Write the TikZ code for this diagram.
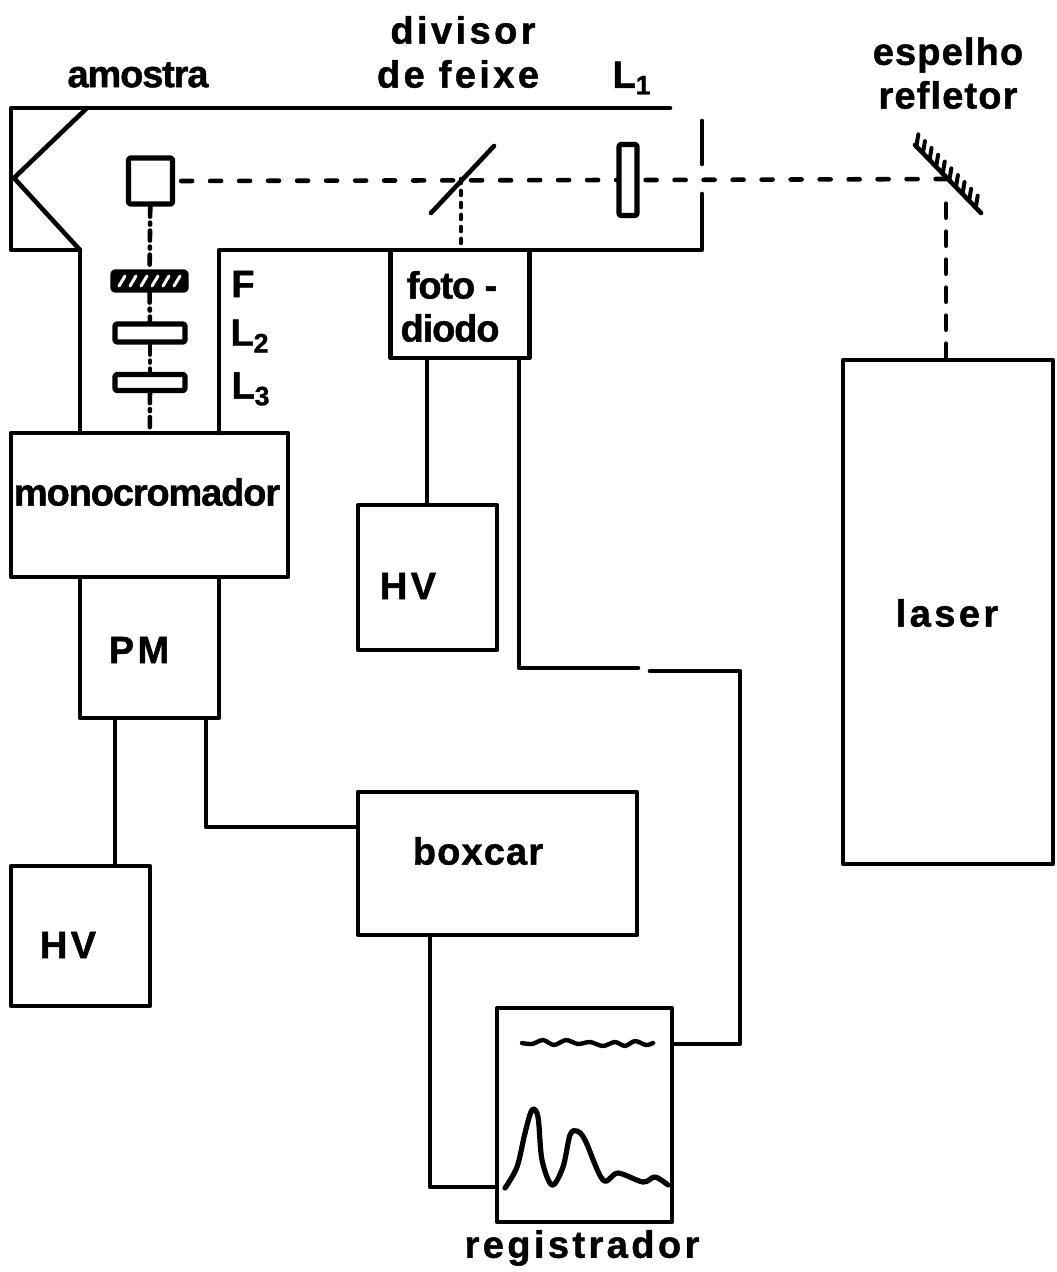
\documentclass[tikz,border=0pt]{standalone}
\usepackage{fontspec}
\setmainfont[FakeBold=1.2]{Liberation Sans}
\newfontfamily\widefont[LetterSpace=9,FakeBold=1.2]{Liberation Sans}
\newfontfamily\midfont[LetterSpace=3,FakeBold=1.2]{Liberation Sans}
\newfontfamily\tightfont[LetterSpace=-3,FakeBold=1.2]{Liberation Sans}
\usetikzlibrary{calc,positioning}

\begin{document}
\begin{tikzpicture}[x=0.5pt,y=-0.5pt,line cap=round,line join=round,
	box/.style={draw,line width=2.3pt,inner sep=0pt},
	optic/.style={draw,line width=2.6pt,inner sep=0pt,rounded corners=1pt},
	lbl/.style={font=\fontsize{19}{19}\selectfont\bfseries\midfont,inner sep=0pt},
	widelbl/.style={font=\fontsize{19}{19}\selectfont\bfseries\widefont,inner sep=0pt},
	tightlbl/.style={font=\fontsize{19}{19}\selectfont\bfseries\tightfont,inner sep=0pt},
	wire/.style={line width=2.3pt},
	beam/.style={line width=2.3pt,dash pattern=on 5.5pt off 9pt},
	axis/.style={line width=2.3pt,dash pattern=on 7pt off 7pt},
	axisb/.style={line width=2.3pt,dash pattern=on 5pt off 3pt on 1pt off 3pt},
	dots/.style={line width=2.3pt,dash pattern=on 2pt off 4pt},
	trace/.style={line width=2.6pt}]
	\useasboundingbox (0,0) rectangle (1056,1272);

	% housing
	\draw[wire] (670,108) -- (11,108) -- (11,250) -- (80,250) -- (80,433);
	\draw[wire] (219,433) -- (219,250) -- (702,250) -- (702,194);
	\draw[wire] (702,121) -- (702,164);
	\draw[wire] (87,108) -- (14,178) -- (80,250);

	% boxes
	\node[box,minimum width=138.5pt,minimum height=72pt] (mono) at (149.5,505) {};
	\node[box,minimum width=69.5pt,minimum height=70.5pt] (pm) at (149.5,647.5) {};
	\node[box,minimum width=69.5pt,minimum height=70pt] (hvleft) at (80.5,936) {};
	\node[box,minimum width=69.5pt,minimum height=54pt] (foto) at (460,304) {};
	\node[box,minimum width=69.5pt,minimum height=72.5pt] (hvmid) at (427.5,577.5) {};
	\node[box,minimum width=139.5pt,minimum height=71.5pt] (boxcar) at (497.5,863.5) {};
	\node[box,minimum width=87.5pt,minimum height=107pt] (reg) at (584.5,1115) {};
	\node[box,minimum width=105pt,minimum height=252pt] (laser) at (948,612) {};

	% optics
	\node[optic,minimum width=22pt,minimum height=23pt] (sample) at (150.5,181) {};
	\node[optic,minimum width=9pt,minimum height=35.5pt] (lensa) at (628,180) {};
	\node[optic,fill=black,minimum width=36.5pt,minimum height=9pt] (filt) at (149.5,281) {};
	\node[optic,minimum width=35pt,minimum height=9pt] (lensb) at (150,333) {};
	\node[optic,minimum width=35pt,minimum height=8pt] (lensc) at (150,382.5) {};
	\foreach \hx in {122,133,144,155,166,177}
		\draw[white,line width=1.5pt] (\hx-3,286) -- (\hx+3,276);

	\coordinate (splita) at (431,213);
	\coordinate (splitb) at (494,146);
	\coordinate (splitc) at (461,179);
	\coordinate (splitd) at (461,245);
	\coordinate (mirra) at (915,145);
	\coordinate (mirrb) at (981,213);
	\coordinate (mirrc) at (946,190);
	\coordinate (mirrd) at (946,179);
	\draw[wire] (splita) -- (splitb);
	\draw[wire] (mirra) -- (mirrb);
	\foreach \t in {0.02,0.12,...,1.0}
		\draw[line width=2pt] ($(mirra)!\t!(mirrb)$) -- ++(2,-12);

	% light path
	\draw[beam] (sample.east) ++(6,0) -- (lensa.west);
	\draw[beam] (lensa.east) ++(6,0) -- (mirrd);
	\draw[axis] (laser.north -| mirrc) -- (mirrc);
	\draw[dots] (splitc) -- (splitd);
	\path[axisb]
		(sample) edge (filt)
		(filt) edge (lensb)
		(lensb) edge (lensc)
		(lensc) edge (mono);

	% wiring
	\draw[wire] (pm.south -| 115,0) -- (hvleft.north -| 115,0);
	\draw[wire] (pm.south -| 206,0) |- (boxcar.west |- 0,827);
	\draw[wire] (foto.south -| 427,0) -- (hvmid.north -| 427,0);
	\draw[wire] (boxcar.south -| 430,0) |- (reg.west |- 0,1187);
	\coordinate (wiregapa) at (638,668);
	\coordinate (wiregapb) at (650,671);
	\draw[wire] (foto.south -| 519,0) |- (wiregapa);
	\draw[wire] (wiregapb) -| (740,1044) -- (reg.east |- 0,1044);

	% chart traces
	\draw[trace,line width=2.2pt] plot[smooth] coordinates {(522,1043) (532,1044) (543,1040) (554,1045)
		(566,1040) (578,1044) (590,1042) (603,1046) (615,1042) (625,1046) (635,1041) (646,1045) (653,1043)};
	\draw[trace] plot[smooth,tension=0.55] coordinates {(505,1188) (517,1167) (525,1133) (532,1110) (538,1117)
		(542,1160) (552,1185) (563,1167) (570,1135) (577,1131) (585,1140) (603,1180)
		(618,1173) (643,1182) (655,1177) (668,1185)};

	% labels
	\node[widelbl] (divisor) at (463,30) {divisor};
	\node[widelbl] (feixe) at (458,74) {de feixe};
	\node[tightlbl] (amostra) at (138,75) {amostra};
	\node[lbl] (labela) at (632,78) {L\textsubscript{1}};
	\node[lbl] (espelho) at (948,55) {espelho};
	\node[lbl] (refletor) at (948,95) {refletor};
	\node[lbl] (labelf) at (243,284) {F};
	\node[lbl] (labelb) at (250,336) {L\textsubscript{2}};
	\node[lbl] (labelc) at (251,389) {L\textsubscript{3}};
	\node[tightlbl] (monotxt) at (147,492) {monocromador};
	\node[widelbl] (pmtxt) at (139,650) {PM};
	\node[widelbl] (hvlefttxt) at (68,945) {HV};
	\node[widelbl] (hvmidtxt) at (408,586) {HV};
	\node[tightlbl] (fototxt) at (452,285) {foto -};
	\node[tightlbl] (diodotxt) at (450,328) {diodo};
	\node[widelbl] (lasertxt) at (947,613) {laser};
	\node[lbl] (boxcartxt) at (478,851) {boxcar};
	\node[widelbl] (regtxt) at (582,1248) {registrador};
\end{tikzpicture}
\end{document}
